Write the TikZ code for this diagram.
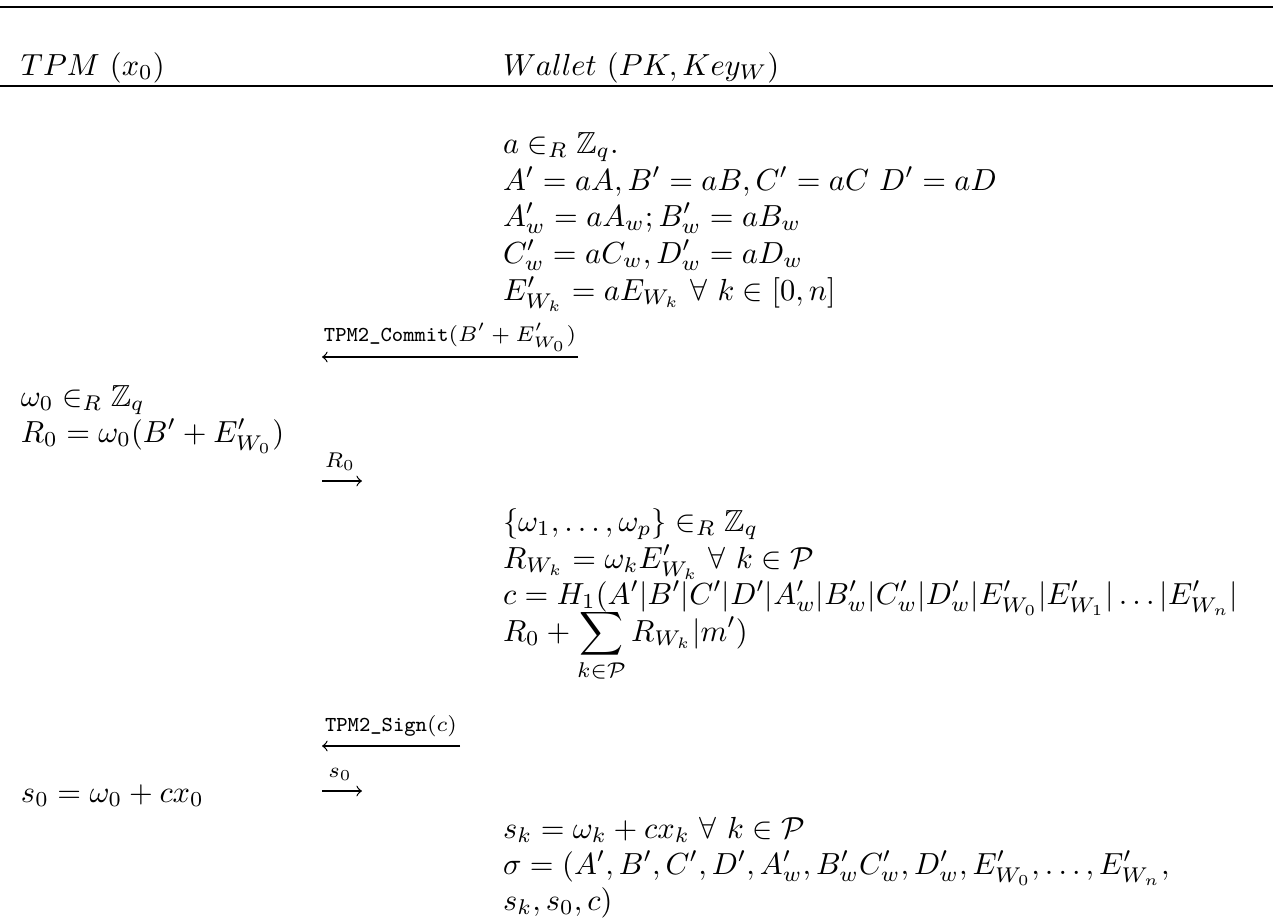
\documentclass[tikz,border=0pt]{standalone}
\usepackage{amsmath,amssymb}
\begin{document}
\begin{tikzpicture}[x=0.328pt,y=-0.328pt,
  txt/.style={anchor=base west,inner sep=0pt,outer sep=0pt},
  lbl/.style={font=\scriptsize,inner sep=0pt,anchor=base},
  msg/.style={line width=0.4pt,-to},
  rulel/.style={line width=0.6pt}]
\useasboundingbox (0,0) rectangle (1273,920);
\coordinate (r1l) at (0,7);   \coordinate (r1r) at (1273,7);
\coordinate (r2l) at (0,86);  \coordinate (r2r) at (1273,86);
\draw[rulel] (r1l) -- (r1r);
\draw[rulel] (r2l) -- (r2r);
\node[txt] (tpm) at (21,75) {$TPM\ (x_0)$};
\node[txt] (wal) at (503,75) {$Wallet\ (PK, Key_W)$};
% wallet block 1
\node[txt] (w1) at (503,153) {$a \in_R \mathbb{Z}_q.$};
\node[txt] (w2) at (503,190) {$A' = aA, B' = aB, C' = aC\ D' = aD$};
\node[txt] (w3) at (503,226) {$A'_w = aA_w; B'_w = aB_w$};
\node[txt] (w4) at (503,263) {$C'_w = aC_w, D'_w = aD_w$};
\node[txt] (w5) at (503,300) {$E'_{W_k} = aE_{W_k}\ \forall\ k \in [0, n]$};
% commit message
\coordinate (m1r) at (578,357);
\coordinate (m1l) at (322,357);
\draw[msg] (m1r) -- (m1l);
\node[lbl] (l1) at (450,341) {\texttt{TPM2\_Commit}$(B' + E'_{W_0})$};
% tpm block 1
\node[txt] (t1) at (21,406) {$\omega_0 \in_R \mathbb{Z}_q$};
\node[txt] (t2) at (21,442) {$R_0 = \omega_0(B' + E'_{W_0})$};
% R0 message
\coordinate (m2l) at (322,481);
\coordinate (m2r) at (362,481);
\draw[msg] (m2l) -- (m2r);
\node[lbl] (l2) at (340,467) {$R_0$};
% wallet block 2
\node[txt] (w6) at (503,531) {$\{\omega_1, \ldots, \omega_p\} \in_R \mathbb{Z}_q$};
\node[txt] (w7) at (503,568) {$R_{W_k} = \omega_k E'_{W_k}\ \forall\ k \in \mathcal{P}$};
\node[txt] (w8) at (503,604) {$c = H_1(A'|B'|C'|D'|A'_w|B'_w|C'_w|D'_w|E'_{W_0}|E'_{W_1}|\ldots|E'_{W_n}|$};
\node[txt] (w9) at (503,641) {$\displaystyle R_0 + \sum_{k\in\mathcal{P}} R_{W_k}|m')$};
% sign message
\coordinate (m3r) at (460,746);
\coordinate (m3l) at (322,746);
\draw[msg] (m3r) -- (m3l);
\node[lbl] (l3) at (391,731) {\texttt{TPM2\_Sign}$(c)$};
% s0
\node[txt] (t3) at (21,802) {$s_0 = \omega_0 + cx_0$};
\coordinate (m4l) at (322,791);
\coordinate (m4r) at (362,791);
\draw[msg] (m4l) -- (m4r);
\node[lbl] (l4) at (340,777) {$s_0$};
% wallet block 3
\node[txt] (w10) at (503,838) {$s_k = \omega_k + cx_k\ \forall\ k \in \mathcal{P}$};
\node[txt] (w11) at (503,874) {$\sigma = (A', B', C', D', A'_w, B'_wC'_w, D'_w, E'_{W_0}, \ldots, E'_{W_n},$};
\node[txt] (w12) at (503,910) {$s_k, s_0, c)$};
\end{tikzpicture}
\end{document}
